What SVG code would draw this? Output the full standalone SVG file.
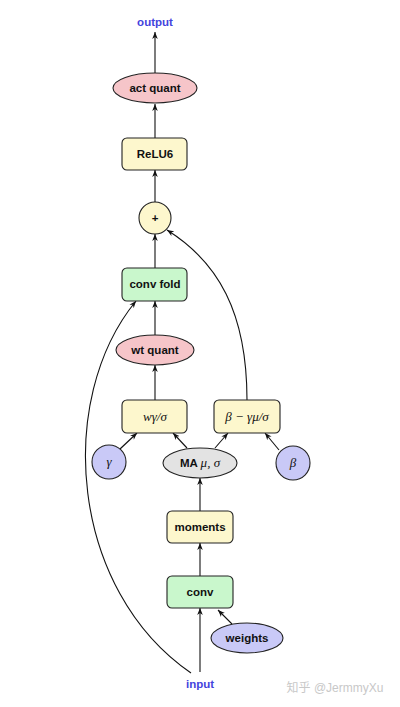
<svg xmlns="http://www.w3.org/2000/svg" width="400" height="707" viewBox="0 0 400 707">
<style>
.n{stroke:#222;stroke-width:1.1}
.y{fill:#fdf7cd}.g{fill:#c9f7cc}.p{fill:#f6c5c9}.b{fill:#c9c9f7}.gr{fill:#e3e3e3}
.t{font-family:"Liberation Sans",Arial,sans-serif;font-weight:bold;font-size:11.5px;fill:#111;text-anchor:middle}
.m{font-family:"Liberation Serif","Times New Roman",serif;font-style:italic;font-size:13px;fill:#111;text-anchor:middle}
.fs{font-family:"Liberation Sans",Arial,sans-serif;font-weight:bold;font-size:11.5px}
.fm{font-family:"Liberation Serif","Times New Roman",serif;font-style:italic;font-size:13px}
.io{font-family:"Liberation Sans",Arial,sans-serif;font-weight:bold;font-size:11.5px;fill:#4444dd;text-anchor:middle}
.e{fill:none;stroke:#111;stroke-width:1.1;marker-end:url(#a)}
</style>
<defs>
<marker id="a" viewBox="0 0 10 10" refX="10" refY="5" markerWidth="7" markerHeight="7" orient="auto" markerUnits="userSpaceOnUse">
<path d="M0,1 L10,5 L0,9 L3,5 Z" fill="#111"/>
</marker>
</defs>
<rect width="400" height="707" fill="#fff"/>
<g id="connectors">
<line class="e" x1="155" y1="73" x2="155" y2="32"/>
<line class="e" x1="155" y1="138" x2="155" y2="104"/>
<line class="e" x1="155" y1="202" x2="155" y2="170"/>
<line class="e" x1="155" y1="268" x2="155" y2="234"/>
<line class="e" x1="155" y1="335" x2="155" y2="301"/>
<line class="e" x1="155" y1="400" x2="155" y2="365"/>
<line class="e" x1="120" y1="449" x2="137" y2="433"/>
<line class="e" x1="187" y1="448" x2="173" y2="433"/>
<line class="e" x1="215" y1="448" x2="228" y2="433"/>
<line class="e" x1="279" y1="450" x2="265" y2="433"/>
<line class="e" x1="200" y1="511" x2="200" y2="478"/>
<line class="e" x1="200" y1="576" x2="200" y2="543"/>
<line class="e" x1="200" y1="672" x2="200" y2="608"/>
<line class="e" x1="232" y1="624" x2="218" y2="610"/>
<path class="e" d="M247,400 C247,312 218,262 167,230"/>
<path class="e" d="M191,673 C70,590 55,400 136,301"/>
</g>
<g id="output"><text class="io" x="155" y="26">output</text></g>
<g id="act_quant"><ellipse class="n p" cx="155" cy="88" rx="42" ry="15"/><text class="t" x="155" y="92">act quant</text></g>
<g id="relu6"><rect class="n y" x="122" y="138" width="65" height="32" rx="5"/><text class="t" x="155" y="158">ReLU6</text></g>
<g id="add"><circle class="n y" cx="155" cy="218" r="16"/><text class="t" x="155" y="222">+</text></g>
<g id="conv_fold"><rect class="n g" x="122" y="268" width="65" height="33" rx="5"/><text class="t" x="155" y="288">conv fold</text></g>
<g id="wt_quant"><ellipse class="n p" cx="155" cy="350" rx="39" ry="15"/><text class="t" x="155" y="354">wt quant</text></g>
<g id="w_scale"><rect class="n y" x="122" y="400" width="65" height="33" rx="5"/><text class="m" x="155" y="421">wγ/σ</text></g>
<g id="b_fold"><rect class="n y" x="214" y="400" width="66" height="33" rx="5"/><text class="m" x="247" y="421">β − γμ/σ</text></g>
<g id="gamma"><circle class="n b" cx="109" cy="462" r="17"/><text class="m" x="109" y="466">γ</text></g>
<g id="ma"><ellipse class="n gr" cx="200" cy="463" rx="37" ry="15"/><text x="200" y="467" text-anchor="middle" fill="#111"><tspan class="fs">MA </tspan><tspan class="fm">μ, σ</tspan></text></g>
<g id="beta"><circle class="n b" cx="293" cy="463" r="17"/><text class="m" x="293" y="467">β</text></g>
<g id="moments"><rect class="n y" x="167" y="511" width="66" height="32" rx="5"/><text class="t" x="200" y="531">moments</text></g>
<g id="conv"><rect class="n g" x="167" y="576" width="66" height="32" rx="5"/><text class="t" x="200" y="596">conv</text></g>
<g id="weights"><ellipse class="n b" cx="247" cy="638" rx="36" ry="15"/><text class="t" x="247" y="642">weights</text></g>
<g id="input"><text class="io" x="200" y="688">input</text></g>
<text x="335" y="692" text-anchor="middle" font-family="'Liberation Sans','Noto Sans CJK SC',sans-serif" font-size="12" fill="#c8c8c8">知乎 @JermmyXu</text>
</svg>
